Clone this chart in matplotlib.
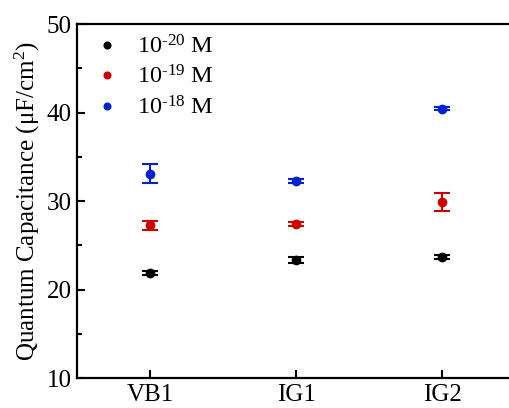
import matplotlib
matplotlib.use("Agg")
from matplotlib import pyplot as plt
from matplotlib.ticker import MultipleLocator

plt.rcParams['font.family'] = ['Liberation Serif', 'DejaVu Serif']
plt.rcParams['mathtext.fontset'] = 'custom'
plt.rcParams['mathtext.rm'] = 'Liberation Serif'
plt.rcParams['mathtext.it'] = 'Liberation Serif:italic'

samples = ["VB1", "IG1", "IG2"]
labels = ["10$^{\\text{-20}}$ M", "10$^{\\text{-19}}$ M", "10$^{\\text{-18}}$ M"]
colors = ["#000000", "#cc0000", "#0022cc"]

# capacitance (uF/cm2) and error for each concentration
cap_20 = [21.85, 23.3, 23.7]
err_20 = [0.25, 0.35, 0.2]
cap_19 = [27.25, 27.4, 29.9]
err_19 = [0.55, 0.25, 1.0]
cap_18 = [33.1, 32.25, 40.45]
err_18 = [1.05, 0.25, 0.15]

caps = [cap_20, cap_19, cap_18]
errs = [err_20, err_19, err_18]

fig = plt.figure(figsize=(5.1, 4.08), dpi=100)
ax = fig.add_axes([0.151, 0.0735, 0.859, 0.8675])

xs = [1, 2, 3]
for c, e, col, lab in zip(caps, errs, colors, labels):
    ax.errorbar(xs, c, yerr=e, fmt='o', color=col, ms=6, capsize=6,
                elinewidth=1.5, capthick=1.5, label=lab)

ax.set_xlim(0.5, 3.5)
ax.set_ylim(10, 50)
ax.set_xticks(xs)
ax.set_xticklabels(samples)
ax.yaxis.set_major_locator(MultipleLocator(10))
ax.yaxis.set_minor_locator(MultipleLocator(5))
ax.tick_params(axis='both', which='both', direction='in', labelsize=18, width=1.5)
ax.tick_params(which='major', length=6)
ax.tick_params(which='minor', length=3.5)
ax.tick_params(axis='x', pad=4)
ax.tick_params(axis='y', pad=4)
for s in ax.spines.values():
    s.set_linewidth(1.6)

ax.set_ylabel("Quantum Capacitance (\u03bcF/cm$^2$)", fontsize=18, labelpad=3)

h, l = ax.get_legend_handles_labels()
h = [x[0] for x in h]
leg = ax.legend(h, l, loc='upper left', frameon=False, fontsize=17.5,
                markerscale=0.8, handlelength=1.0, handletextpad=0.7,
                borderaxespad=0.35, labelspacing=0.3,
                bbox_to_anchor=(0.0, 1.02))

fig.savefig("out.png", dpi=100)
